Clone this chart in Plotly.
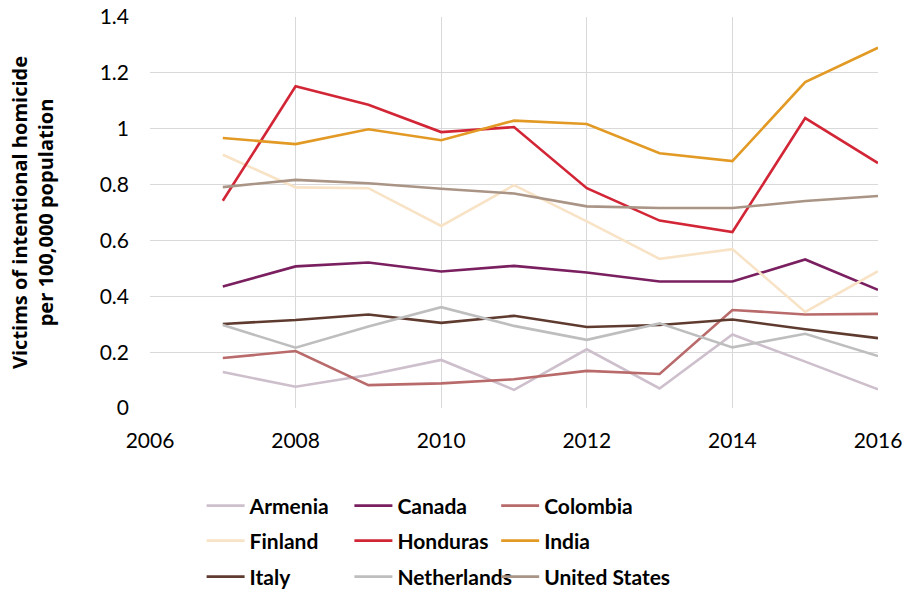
import plotly.graph_objects as go

years = [2007, 2008, 2009, 2010, 2011, 2012, 2013, 2014, 2015, 2016]

armenia = [0.129, 0.076, 0.118, 0.172, 0.065, 0.210, 0.070, 0.263, 0.166, 0.067]
canada = [0.435, 0.507, 0.521, 0.489, 0.509, 0.485, 0.453, 0.453, 0.532, 0.423]
colombia = [0.179, 0.204, 0.082, 0.088, 0.103, 0.133, 0.122, 0.351, 0.335, 0.337]
finland = [0.907, 0.790, 0.787, 0.652, 0.798, 0.668, 0.534, 0.569, 0.344, 0.490]
honduras = [0.742, 1.152, 1.086, 0.988, 1.006, 0.787, 0.671, 0.630, 1.038, 0.877]
india = [0.967, 0.945, 0.998, 0.959, 1.029, 1.017, 0.912, 0.884, 1.167, 1.290]
italy = [0.301, 0.315, 0.335, 0.305, 0.330, 0.290, 0.297, 0.317, 0.282, 0.250]
netherlands = [0.297, 0.216, 0.292, 0.361, 0.294, 0.244, 0.303, 0.217, 0.266, 0.186]
united_states = [0.791, 0.817, 0.805, 0.785, 0.768, 0.722, 0.716, 0.716, 0.741, 0.759]

series = [
    ("Armenia", armenia, "#cdbfcc"),
    ("Canada", canada, "#7a1f5f"),
    ("Colombia", colombia, "#b96a6b"),
    ("Finland", finland, "#f8e3c6"),
    ("Honduras", honduras, "#d22637"),
    ("India", india, "#e29a25"),
    ("Italy", italy, "#5f3b2f"),
    ("Netherlands", netherlands, "#bebebe"),
    ("United States", united_states, "#a99485"),
]

FONT = "Lato, sans-serif"

# legend grid: 3 columns x 3 rows
col_x = [0.0709, 0.2739, 0.4755]
row_y = [-(506 - 408) / 391, -(541 - 408) / 391, -(577 - 408) / 391]

fig = go.Figure()
legends = {}
for i, (name, vals, col) in enumerate(series):
    key = "legend" if i == 0 else f"legend{i + 1}"
    fig.add_trace(go.Scatter(x=years, y=vals, name=name, mode="lines", legend=key,
                             line=dict(color=col, width=2.6)))
    legends[key] = dict(orientation="h", x=col_x[i % 3], xanchor="left",
                        y=row_y[i // 3], yanchor="middle", itemwidth=38,
                        bgcolor="rgba(0,0,0,0)",
                        font=dict(family=FONT, size=21, color="#000000", weight="bold"))

fig.update_layout(
    width=903, height=591,
    margin=dict(l=150, r=25, t=17, b=183, autoexpand=False),
    plot_bgcolor="white", paper_bgcolor="white",
    font=dict(family=FONT, size=21, color="#000000"),
    showlegend=True,
    xaxis=dict(range=[2006, 2016], dtick=2, tick0=2006, showgrid=True,
               gridcolor="#d9d9d9", gridwidth=1, zeroline=False, showline=False,
               ticks="", ticklabelstandoff=18,
               tickfont=dict(family=FONT, size=21, color="#000000")),
    yaxis=dict(range=[0, 1.4001], tickmode="array",
               tickvals=[0, 0.2, 0.4, 0.6, 0.8, 1.0, 1.2, 1.4],
               ticktext=["0", "0.2", "0.4", "0.6", "0.8", "1", "1.2", "1.4"],
               showgrid=True, gridcolor="#d9d9d9",
               gridwidth=1, zeroline=False, showline=False, ticks="",
               tickfont=dict(family=FONT, size=21, color="#000000"),
               ticklabelstandoff=20,
               title=dict(text="<b>Victims of intentional homicide<br>per 100,000 population</b>",
                          font=dict(family="'Open Sans', sans-serif", size=20, color="#000000"),
                          standoff=40)),
    **legends,
)

fig.write_html("out.html", config={"displayModeBar": False},
               post_script="document.body.style.margin='0';document.body.style.overflow='hidden';")
